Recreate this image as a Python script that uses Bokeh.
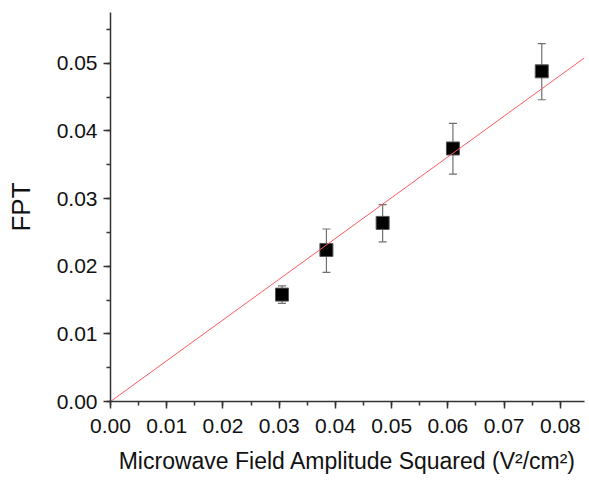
from bokeh.plotting import figure
from bokeh.models import Range1d, SingleIntervalTicker, PrintfTickFormatter, Whisker, TeeHead, ColumnDataSource
from bokeh.embed import file_html
from bokeh.resources import INLINE

# Data
field_sq = [0.0305, 0.0384, 0.0484, 0.0609, 0.0767]
fpt = [0.0158, 0.0224, 0.0264, 0.0374, 0.0488]
fpt_upper = [0.0171, 0.0255, 0.0291, 0.0411, 0.0529]
fpt_lower = [0.0145, 0.0191, 0.0236, 0.0336, 0.0446]

fit_x = [0.0, 0.0843]
fit_y = [0.0, 0.0508]

x_ticks_interval = 0.01
y_ticks_interval = 0.01

FONT = "Liberation Sans"

p = figure(width=589, height=481, output_backend="svg", toolbar_location=None,
           x_range=Range1d(0, 0.0843), y_range=Range1d(0, 0.0575),
           min_border_left=110, min_border_right=5, min_border_top=12, min_border_bottom=80,
           x_axis_label="Microwave Field Amplitude Squared (V²/cm²)", y_axis_label="FPT")

p.xgrid.visible = False
p.ygrid.visible = False
p.outline_line_color = None
p.background_fill_color = "white"
p.border_fill_color = "white"

p.xaxis.ticker = SingleIntervalTicker(interval=x_ticks_interval, num_minor_ticks=2)
p.yaxis.ticker = SingleIntervalTicker(interval=y_ticks_interval, num_minor_ticks=2)
for ax in (p.xaxis, p.yaxis):
    ax.formatter = PrintfTickFormatter(format="%.2f")
    ax.axis_line_color = "#333333"
    ax.axis_line_width = 1.5
    ax.major_tick_line_color = "#333333"
    ax.major_tick_line_width = 1.5
    ax.minor_tick_line_color = "#333333"
    ax.minor_tick_line_width = 1.5
    ax.major_tick_out = 7
    ax.major_tick_in = 0
    ax.minor_tick_out = 4
    ax.minor_tick_in = 0
    ax.major_label_text_font = FONT
    ax.major_label_text_font_size = "21px"
    ax.major_label_text_color = "#111111"
    ax.axis_label_text_font = FONT
    ax.axis_label_text_font_style = "normal"
    ax.axis_label_text_color = "#111111"

p.xaxis.major_label_standoff = 10
p.yaxis.major_label_standoff = 6
p.xaxis.axis_label_text_font_size = "23px"
p.xaxis.axis_label_standoff = 12
p.yaxis.axis_label_text_font_size = "26px"
p.yaxis.axis_label_standoff = 18

src = ColumnDataSource(dict(x=field_sq, y=fpt, upper=fpt_upper, lower=fpt_lower))

wh = Whisker(source=src, base="x", upper="upper", lower="lower", dimension="height",
             line_color="#707070", line_width=1.2,
             upper_head=TeeHead(size=8, line_color="#707070", line_width=1.2),
             lower_head=TeeHead(size=8, line_color="#707070", line_width=1.2))
p.add_layout(wh)

p.scatter("x", "y", source=src, marker="square", size=13, fill_color="black",
          line_color="#555555", line_width=1)

p.line(fit_x, fit_y, line_color="#ff5a5a", line_width=1)

open("out.html", "w").write(file_html(p, INLINE))
